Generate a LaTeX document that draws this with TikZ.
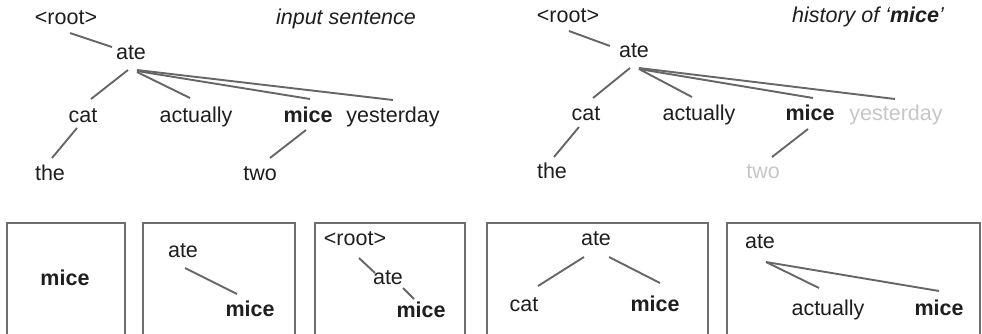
\documentclass[tikz,border=0pt]{standalone}
\usepackage{fontspec}
\setmainfont{Liberation Sans}
\usetikzlibrary{calc}
\definecolor{ink}{HTML}{1E1E1E}
\definecolor{edgegray}{HTML}{666666}
\definecolor{faded}{HTML}{C6C6C6}
\definecolor{framegray}{HTML}{6E6E6E}
\tikzset{
  word/.style={anchor=base, inner sep=0pt, text=ink, font=\fontsize{21.5}{26}\selectfont},
  head/.style={word, font=\fontsize{21.5}{26}\selectfont\bfseries},
  dim/.style={word, text=faded},
  caption/.style={word, font=\fontsize{21.5}{26}\selectfont\itshape},
  link/.style={draw=edgegray, line width=1.9pt},
  frame/.style={draw=framegray, line width=1.9pt}
}
\begin{document}
\begin{tikzpicture}[x=1pt, y=-1pt]
\useasboundingbox (0,0) rectangle (982,333);
\clip (0,0) rectangle (982,333);

% ---- full dependency tree ----
\node[word] (r0)  at (66,24)   {<root>};
\node[caption] (t0) at (346,24) {input sentence};
\node[word] (a0)  at (131,59)  {ate};
\node[word] (c0)  at (83,122)  {cat};
\node[word] (ac0) at (196,122) {actually};
\node[head] (m0)  at (308,122) {mice};
\node[word] (y0)  at (393,122) {yesterday};
\node[word] (th0) at (50,180)  {the};
\node[word] (tw0) at (260,180) {two};

\draw[link] ($(r0.base)+(4,9)$)  -- ($(a0.base)+(-19,-12)$);
\draw[link] ($(a0.base)+(-3,11)$) -- ($(c0.base)+(8,-23)$);
\draw[link] ($(a0.base)+(6,13)$) -- ($(ac0.base)+(-6,-24)$);
\draw[link] ($(a0.base)+(6,12)$) -- ($(m0.base)+(2,-23)$);
\draw[link] ($(a0.base)+(6,11)$) -- ($(y0.base)+(0,-22)$);
\draw[link] ($(c0.base)+(-6,6)$) -- ($(th0.base)+(2,-22)$);
\draw[link] ($(m0.base)+(-2,8)$) -- ($(tw0.base)+(10,-22)$);

% ---- the same tree, seen from 'mice' ----
\node[word] (r1)  at (568,22)  {<root>};
\node[caption] (t1) at (868,22) {history of ‘\textbf{mice}’};
\node[word] (a1)  at (634,57)  {ate};
\node[word] (c1)  at (586,120) {cat};
\node[word] (ac1) at (699,120) {actually};
\node[head] (m1)  at (810,120) {mice};
\node[dim]  (y1)  at (896,120) {yesterday};
\node[word] (th1) at (552,178) {the};
\node[dim]  (tw1) at (763,178) {two};

\draw[link] ($(r1.base)+(1,9)$)  -- ($(a1.base)+(-24,-11)$);
\draw[link] ($(a1.base)+(-4,11)$) -- ($(c1.base)+(7,-22)$);
\draw[link] ($(a1.base)+(5,12)$) -- ($(ac1.base)+(-7,-23)$);
\draw[link] ($(a1.base)+(5,12)$) -- ($(m1.base)+(3,-22)$);
\draw[link] ($(a1.base)+(5,11)$) -- ($(y1.base)+(-1,-21)$);
\draw[link] ($(c1.base)+(-7,7)$) -- ($(th1.base)+(2,-21)$);
\draw[link] ($(m1.base)+(-2,9)$) -- ($(tw1.base)+(9,-21)$);

% ---- history steps ----
\draw[frame] (7,345) -- (7,223) -- (125,223) -- (125,345);
\node[head] (s1m) at (65,285) {mice};

\draw[frame] (143,345) -- (143,223) -- (295,223) -- (295,345);
\node[word] (s2a) at (183,257) {ate};
\node[head] (s2m) at (250,316) {mice};
\draw[link] ($(s2a.base)+(2,11)$) -- ($(s2m.base)+(-13,-22)$);

\draw[frame] (315,345) -- (315,223) -- (465,223) -- (465,345);
\node[word] (s3r) at (355,245) {<root>};
\node[word] (s3a) at (388,284) {ate};
\node[head] (s3m) at (421,317) {mice};
\draw[link] ($(s3r.base)+(4,13)$) -- ($(s3a.base)+(-13,-11)$);
\draw[link] ($(s3a.base)+(15,4)$) -- ($(s3m.base)+(-7,-18)$);

\draw[frame] (487,345) -- (487,223) -- (708,223) -- (708,345);
\node[word] (s4a) at (596,245) {ate};
\node[word] (s4c) at (524,311) {cat};
\node[head] (s4m) at (655,311) {mice};
\draw[link] ($(s4a.base)+(-12,12)$) -- ($(s4c.base)+(14,-25)$);
\draw[link] ($(s4a.base)+(13,12)$) -- ($(s4m.base)+(5,-28)$);

\draw[frame] (727,345) -- (727,223) -- (980,223) -- (980,345);
\node[word] (s5a) at (760,248) {ate};
\node[word] (s5ac) at (828,315) {actually};
\node[head] (s5m) at (939,315) {mice};
\draw[link] ($(s5a.base)+(6,14)$) -- ($(s5ac.base)+(-9,-27)$);
\draw[link] ($(s5a.base)+(6,14)$) -- ($(s5m.base)+(0,-24)$);
\end{tikzpicture}
\end{document}
